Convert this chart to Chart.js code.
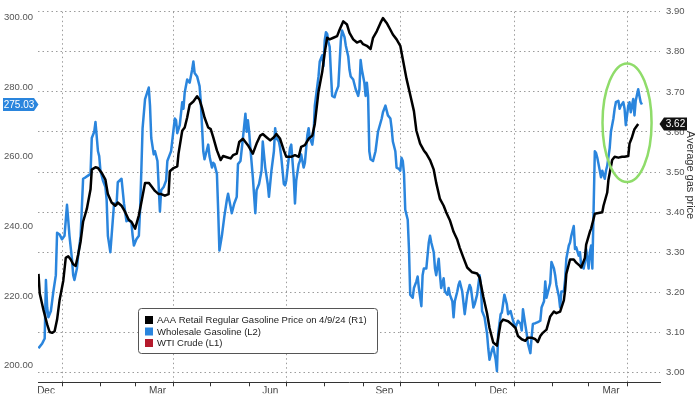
<!DOCTYPE html>
<html><head><meta charset="utf-8">
<script src="https://cdn.jsdelivr.net/npm/chart.js@4.4.1/dist/chart.umd.min.js"></script>
<style>html,body{margin:0;padding:0;background:#fff;}#wrap{width:700px;height:394px;position:relative;}</style>
</head><body><div id="wrap"><canvas id="c" width="700" height="394"></canvas></div>
<script>
// x values: days since 2023-01-01
const retailDays = [
-19,-18,-15,-12,-10,-8,-6,-4,-2,1,
3,5,7,9,11,13,15,17,20,23,
24,27,29,32,35,37,40,43,45,48,
51,54,56,59,62,64,67,70,72,75,
78,80,83,86,87,90,93,94,97,99,
101,103,106,109,111,113,115,118,120,122,
125,128,130,133,136,138,141,143,146,150,
154,157,160,162,165,168,171,173,176,179,
181,185,188,191,193,196,199,202,204,207,
210,212,214,216,219,222,224,227,230,232,
235,238,241,243,246,249,251,254,257,259,
262,265,267,270,273,275,278,281,284,286,
289,292,294,297,300,302,305,308,310,313,
316,319,321,324,327,331,335,337,340,343,
345,348,351,354,356,360,363,366,368,371,
374,376,379,382,384,386,388,391,394,397,
399,402,405,406,407,410,413,415,418,419,
422,423,426,427,430,433,436,437,440,441,
444,446,449,452,454,457,458,460,462,465];
const retailPrice = [
3.246,3.197,3.156,3.120,3.101,3.099,3.103,3.132,3.180,3.229,
3.286,3.290,3.282,3.270,3.266,3.294,3.327,3.376,3.408,3.457,
3.506,3.512,3.510,3.498,3.481,3.445,3.424,3.416,3.424,3.416,
3.400,3.380,3.376,3.359,3.392,3.424,3.473,3.473,3.465,3.453,
3.445,3.445,3.441,3.445,3.502,3.510,3.514,3.546,3.603,3.611,
3.636,3.668,3.676,3.689,3.680,3.660,3.636,3.611,3.607,3.587,
3.554,3.530,3.540,3.537,3.534,3.542,3.546,3.575,3.583,3.567,
3.546,3.571,3.591,3.595,3.587,3.579,3.587,3.595,3.583,3.554,
3.538,3.538,3.542,3.538,3.563,3.567,3.583,3.591,3.620,3.701,
3.750,3.798,3.835,3.831,3.835,3.839,3.855,3.876,3.868,3.847,
3.831,3.823,3.827,3.819,3.815,3.807,3.835,3.851,3.872,3.884,
3.872,3.855,3.843,3.831,3.815,3.782,3.733,3.693,3.652,3.603,
3.571,3.554,3.546,3.530,3.506,3.473,3.433,3.416,3.400,3.380,
3.351,3.331,3.311,3.286,3.262,3.250,3.247,3.237,3.189,3.148,
3.111,3.075,3.067,3.124,3.132,3.128,3.120,3.111,3.091,3.083,
3.079,3.087,3.087,3.083,3.076,3.091,3.099,3.107,3.140,3.152,
3.148,3.152,3.180,3.205,3.246,3.282,3.282,3.274,3.266,3.262,
3.286,3.319,3.351,3.359,3.396,3.398,3.400,3.416,3.449,3.481,
3.530,3.538,3.536,3.538,3.538,3.540,3.571,3.587,3.607,3.620];

const wholesaleDays = [
-19,-16,-14,-13,-12,-11,-9,-7,-5,-4,
-2,0,2,4,5,6,8,9,10,12,
13,15,17,19,21,23,24,26,27,29,
30,31,33,35,36,37,39,40,42,44,
45,48,50,52,54,56,57,58,60,62,
63,64,65,67,70,71,72,74,75,77,
79,80,82,84,85,87,88,91,92,93,
95,97,98,99,101,102,103,105,106,107,
109,111,112,114,115,117,118,119,121,122,
123,125,126,127,129,131,133,134,136,137,
139,141,142,144,146,148,149,150,151,152,
154,156,157,159,161,162,164,166,167,169,
171,172,173,175,176,177,179,180,181,183,
184,185,187,188,189,191,192,193,195,196,
198,199,200,202,203,204,206,207,208,210,
211,212,213,214,215,216,217,218,220,221,
223,224,225,226,228,229,231,232,233,235,
237,238,239,240,241,242,244,245,246,247,
248,249,251,253,255,258,259,261,263,265,
266,267,269,270,272,273,274,275,276,277,
279,280,281,283,284,286,287,288,290,291,
292,294,296,297,298,300,301,302,304,305,
306,308,309,311,312,313,315,316,317,319,
320,321,323,325,327,329,330,332,333,335,
337,338,339,341,343,344,345,347,348,350,
351,352,354,355,357,359,360,362,364,366,
368,370,371,372,374,375,376,378,379,380,
382,384,386,387,389,390,391,393,394,395,
397,398,399,401,402,403,405,406,407,409,
410,411,413,414,415,417,418,419,421,422,
423,425,426,427,428,430,431,432,433,435,
436,438,439,440,442,443,445,446,447,449,
450,451,453,454,455,457,458,459,461,462,
463,465,466,467,468];
const wholesalePrice = [
205.0,206.4,207.8,224.6,216.7,213.9,215.7,221.3,226.0,238.2,
237.7,236.3,237.3,246.2,241.9,237.3,230.7,226.0,224.6,227.9,
231.6,237.3,253.7,254.1,254.6,255.1,265.4,267.2,270.0,261.6,
260.2,256.0,253.2,251.3,247.6,237.3,232.6,237.3,246.6,246.2,
252.7,253.7,246.6,241.5,241.9,241.0,237.3,234.5,236.3,237.3,
244.8,256.0,268.2,276.6,279.9,274.7,265.4,260.7,261.6,258.8,
244.3,250.4,251.3,253.2,258.8,260.7,261.6,271.0,270.5,266.8,
269.1,275.7,273.8,278.5,282.2,281.7,281.3,285.0,287.4,284.1,
283.1,280.3,275.7,261.6,259.3,262.1,263.5,260.2,256.9,258.3,
257.9,255.1,244.8,233.1,237.3,242.9,247.6,249.4,245.7,243.8,
246.6,248.5,257.9,258.8,265.4,272.4,267.2,270.5,267.2,262.5,
254.1,243.8,250.4,252.2,256.0,264.4,256.9,252.2,248.5,256.0,
261.6,268.2,265.4,264.4,262.5,259.7,252.2,251.8,253.2,259.7,
262.5,263.5,254.1,246.6,253.2,257.9,258.8,260.7,256.9,258.3,
266.3,268.2,265.4,263.5,266.3,274.7,280.3,283.1,287.4,289.2,
286.0,293.4,295.8,295.3,293.0,291.6,284.1,277.5,277.1,278.5,
280.3,286.9,293.4,296.3,294.4,292.0,288.8,285.0,283.1,282.2,
279.4,278.5,277.5,279.4,287.8,285.0,281.3,277.5,281.3,277.5,
261.6,259.3,258.8,261.6,267.2,271.0,272.8,274.7,271.9,271.0,
268.2,264.4,261.6,256.9,256.5,256.0,259.7,258.8,255.1,244.8,
241.9,233.5,220.4,219.5,222.3,224.2,225.6,222.3,217.1,226.0,
227.9,227.9,235.4,237.3,235.4,232.6,227.9,226.0,230.7,226.0,
222.3,225.1,221.3,220.4,222.3,220.4,218.5,213.9,218.5,221.3,
223.2,224.2,221.3,214.8,220.4,223.2,222.3,216.7,217.6,220.4,
226.0,223.2,215.7,213.9,209.2,205.0,201.7,204.5,205.4,201.7,
198.4,209.2,214.8,215.3,220.4,217.6,214.8,215.7,212.9,211.0,
212.9,212.0,210.1,216.2,211.5,209.2,206.4,203.6,208.2,212.0,
212.2,212.5,212.9,216.7,218.5,224.2,219.5,222.3,223.7,229.8,
227.9,226.0,223.2,219.9,216.7,221.3,221.3,224.6,230.7,234.5,
235.4,237.3,240.1,233.5,234.0,231.6,232.6,228.8,227.9,229.8,
233.5,227.9,232.6,234.5,227.9,261.6,261.1,259.7,257.9,254.1,
256.0,253.7,256.0,257.4,262.5,267.2,271.0,273.8,275.7,276.1,
273.8,274.7,275.7,273.8,269.1,274.7,275.7,272.8,276.6,271.9,
276.1,279.4,277.5,275.7,275.03];

// WTI Crude appears only in the legend (no visible line)
const wtiDays = [];
const wtiPrice = [];

const seriesNames = [
  'AAA Retail Regular Gasoline Price on 4/9/24 (R1)',
  'Wholesale Gasoline (L2)',
  'WTI Crude (L1)'
];
const leftTicks = [200, 220, 240, 260, 280, 300];
const rightTicks = [3.00, 3.10, 3.20, 3.30, 3.40, 3.50, 3.60, 3.70, 3.80, 3.90];
const monthStartDates = ['2023-01-01','2023-02-01','2023-03-01','2023-04-01','2023-05-01','2023-06-01',
  '2023-07-01','2023-08-01','2023-09-01','2023-10-01','2023-11-01','2023-12-01',
  '2024-01-01','2024-02-01','2024-03-01','2024-04-01'];
const quarterLabelDates = ['2023-01-01','2023-04-01','2023-07-01','2023-10-01','2024-01-01','2024-04-01'];
const quarterLabels = ['Dec','Mar','Jun','Sep','Dec','Mar'];
const rightAxisTitle = 'Average gas price';

const dayOf = s => Math.round((Date.parse(s) - Date.parse('2023-01-01')) / 86400000);
const monthStarts = monthStartDates.map(dayOf);
const quarterMap = {};
quarterLabelDates.forEach((d, i) => { quarterMap[dayOf(d)] = quarterLabels[i]; });

// highlight annotation (green ellipse) in data units
const highlight = { day: dayOf('2024-04-01'), price: 3.623, halfDays: 19.8, halfPrice: 0.148 };

const FONT = "'Liberation Sans', Arial, sans-serif";
const toPts = (xs, ys) => xs.map((x, i) => ({ x: x, y: ys[i] }));

const overlay = {
  id: 'overlay',
  afterDatasetsDraw(chart) {
    const ctx = chart.ctx;
    const xs = chart.scales.x, yL = chart.scales.yL, yR = chart.scales.yR;
    ctx.save();
    // green ellipse
    const cx = xs.getPixelForValue(highlight.day);
    const cy = yR.getPixelForValue(highlight.price);
    const rx = xs.getPixelForValue(highlight.day + highlight.halfDays) - cx;
    const ry = yR.getPixelForValue(highlight.price - highlight.halfPrice) - cy;
    ctx.strokeStyle = '#8fdc6a';
    ctx.lineWidth = 2.5;
    ctx.beginPath();
    ctx.ellipse(cx, cy, rx, ry, 0, 0, Math.PI * 2);
    ctx.stroke();

    // legend
    const lx = 138.5, ly = 308.5, lw = 239, lh = 45;
    ctx.fillStyle = '#fff';
    ctx.strokeStyle = '#555';
    ctx.lineWidth = 1;
    ctx.beginPath();
    if (ctx.roundRect) ctx.roundRect(lx, ly, lw, lh, 3); else ctx.rect(lx, ly, lw, lh);
    ctx.fill(); ctx.stroke();
    const rows = [320, 331.5, 343];
    ctx.font = '9.5px ' + FONT;
    ctx.textBaseline = 'middle';
    ctx.textAlign = 'left';
    chart.data.datasets.forEach((ds, i) => {
      ctx.fillStyle = ds.borderColor;
      ctx.fillRect(145, rows[i] - 4, 8, 8);
      ctx.fillStyle = '#222';
      ctx.fillText(ds.label, 157, rows[i] + 0.5);
    });

    // last value badges
    const lastL = wholesalePrice[wholesalePrice.length - 1];
    const lastR = retailPrice[retailPrice.length - 1];
    const by = yL.getPixelForValue(lastL);
    ctx.fillStyle = '#2a85dd';
    ctx.beginPath();
    ctx.moveTo(3, by - 6.5); ctx.lineTo(34, by - 6.5); ctx.lineTo(38.5, by);
    ctx.lineTo(34, by + 6.5); ctx.lineTo(3, by + 6.5); ctx.closePath(); ctx.fill();
    ctx.fillStyle = '#fff';
    ctx.font = '10px ' + FONT;
    ctx.textAlign = 'center';
    ctx.fillText(lastL.toFixed(2), 19, by + 0.5);

    const ry2 = yR.getPixelForValue(lastR);
    ctx.fillStyle = '#111';
    ctx.beginPath();
    ctx.moveTo(659.5, ry2); ctx.lineTo(664, ry2 - 6.5); ctx.lineTo(687, ry2 - 6.5);
    ctx.lineTo(687, ry2 + 6.5); ctx.lineTo(664, ry2 + 6.5); ctx.closePath(); ctx.fill();
    ctx.fillStyle = '#fff';
    ctx.fillText(lastR.toFixed(2), 675.5, ry2 + 0.5);

    // right axis title
    ctx.save();
    ctx.translate(690, 175);
    ctx.rotate(Math.PI / 2);
    ctx.fillStyle = '#333';
    ctx.font = '11px ' + FONT;
    ctx.textAlign = 'center';
    ctx.textBaseline = 'middle';
    ctx.fillText(rightAxisTitle, 0, 0);
    ctx.restore();
    ctx.restore();
  }
};

new Chart(document.getElementById('c'), {
  type: 'line',
  data: {
    datasets: [
      { label: seriesNames[0], data: toPts(retailDays, retailPrice), yAxisID: 'yR',
        borderColor: '#000000', backgroundColor: '#000000', borderWidth: 2.5, pointRadius: 0, tension: 0, borderJoinStyle: 'round' },
      { label: seriesNames[1], data: toPts(wholesaleDays, wholesalePrice), yAxisID: 'yL',
        borderColor: '#2a85dd', backgroundColor: '#2a85dd', borderWidth: 2.5, pointRadius: 0, tension: 0, borderJoinStyle: 'round' },
      { label: seriesNames[2], data: toPts(wtiDays, wtiPrice), yAxisID: 'yL',
        borderColor: '#b51a2c', backgroundColor: '#b51a2c', borderWidth: 2.5, pointRadius: 0, tension: 0 }
    ]
  },
  options: {
    responsive: false,
    animation: false,
    events: [],
    layout: { padding: { left: 4, top: 4, right: 0, bottom: 0 } },
    plugins: { legend: { display: false }, tooltip: { enabled: false } },
    scales: {
      x: {
        type: 'linear', position: 'bottom', min: -19.4, max: 482.6,
        afterFit: s => { s.height = 11; },
        afterBuildTicks: s => { s.ticks = monthStarts.map(v => ({ value: v })); },
        ticks: {
          autoSkip: false, maxRotation: 0, minRotation: 0, padding: -1, labelOffset: -16,
          color: '#444', font: { size: 10, family: FONT },
          callback: v => quarterMap[v] || ''
        },
        grid: {
          color: c => (c.tick && quarterMap[c.tick.value] !== undefined) ? '#9c9c9c' : 'rgba(0,0,0,0)',
          lineWidth: 1, drawTicks: true, tickLength: 4, tickColor: '#333', tickBorderDash: []
        },
        border: { display: true, color: '#333', width: 1, dash: [1.5, 3] }
      },
      yL: {
        type: 'linear', position: 'left', min: 195.22, max: 301.69,
        afterFit: s => { s.width = 34; },
        afterBuildTicks: s => { s.ticks = leftTicks.map(v => ({ value: v })); },
        ticks: { crossAlign: 'far', color: '#555', font: { size: 9.5, family: FONT }, callback: v => Number(v).toFixed(2) },
        grid: { display: false },
        border: { display: false }
      },
      yR: {
        type: 'linear', position: 'right', min: 2.9756, max: 3.90,
        afterFit: s => { s.width = 40; },
        afterBuildTicks: s => { s.ticks = rightTicks.map(v => ({ value: v })); },
        ticks: { padding: 6, color: '#555', font: { size: 9.5, family: FONT }, callback: v => Number(v).toFixed(2) },
        grid: { color: '#9c9c9c', lineWidth: 1, drawTicks: false },
        border: { display: false, dash: [1.5, 3] }
      }
    }
  },
  plugins: [overlay]
});
</script>
</body></html>
